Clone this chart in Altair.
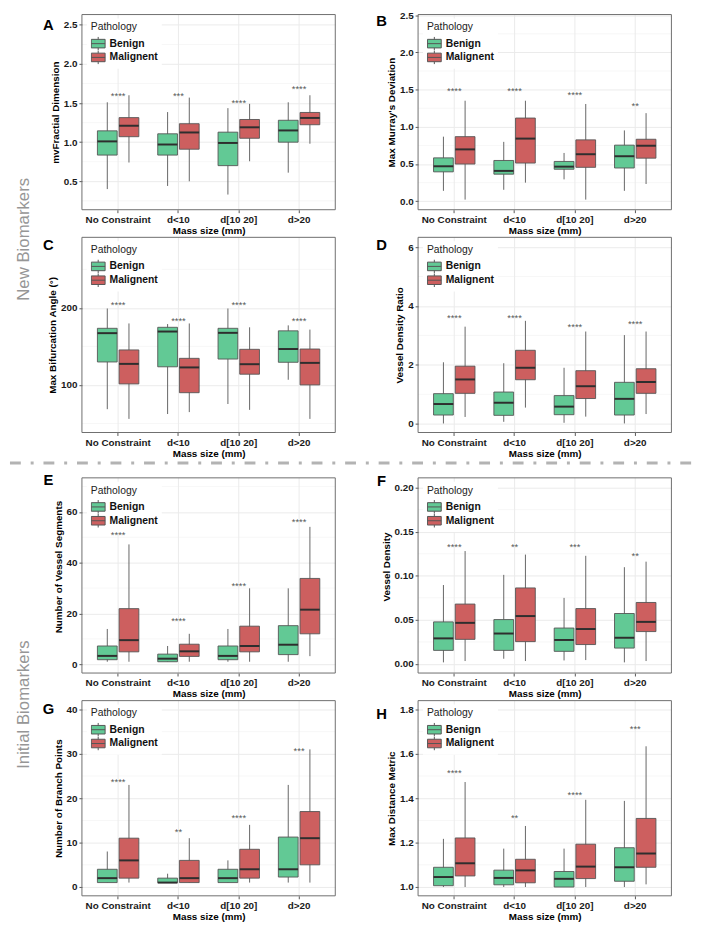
import altair as alt
import pandas as pd

categories = ["No Constraint", "d<10", "d[10 20]", "d>20"]
groups = ["Benign", "Malignent"]

# box statistics per mass-size class: [lower whisker, Q1, median, Q3, upper whisker]
A_benign = [[0.40, 0.835, 1.01, 1.145, 1.51], [0.44, 0.835, 0.97, 1.107, 1.385],
            [0.33, 0.70, 0.99, 1.128, 1.435], [0.61, 1.00, 1.15, 1.28, 1.51]]
A_malig = [[0.74, 1.07, 1.21, 1.314, 1.60], [0.50, 0.91, 1.124, 1.236, 1.57],
           [0.756, 1.05, 1.19, 1.29, 1.49], [0.98, 1.223, 1.31, 1.38, 1.60]]
A_stars = ["****", "***", "****", "****"]
A_star_y = [1.62, 1.62, 1.525, 1.707]

B_benign = [[0.14, 0.395, 0.47, 0.583, 0.868], [0.154, 0.364, 0.408, 0.548, 0.798],
            [0.294, 0.43, 0.465, 0.535, 0.649], [0.14, 0.447, 0.605, 0.754, 0.952]]
B_malig = [[0.022, 0.50, 0.697, 0.868, 1.351], [0.25, 0.513, 0.842, 1.118, 1.351],
           [0.022, 0.456, 0.632, 0.825, 1.307], [0.232, 0.579, 0.746, 0.833, 1.184]]
B_stars = ["****", "****", "****", "**"]
B_star_y = [1.504, 1.504, 1.456, 1.307]

C_benign = [[68.5, 129.8, 167.2, 173.5, 199.2], [62.2, 123.5, 169.3, 174.8, 179.0],
            [75.2, 133.6, 167.6, 173.5, 199.2], [106.7, 129.4, 146.6, 170.2, 177.3]]
C_malig = [[55.9, 101.3, 127.3, 145.4, 179.8], [64.7, 89.9, 122.7, 134.5, 179.8],
           [67.6, 113.9, 126.9, 146.2, 174.8], [55.9, 100.0, 128.6, 146.6, 171.8]]
C_stars = ["****", "****", "****", "****"]
C_star_y = [206.3, 186.1, 206.3, 186.1]

D_benign = [[0.01, 0.297, 0.67, 1.022, 2.088], [0.066, 0.286, 0.714, 1.077, 2.055],
            [0.033, 0.308, 0.582, 0.956, 1.901], [0.011, 0.297, 0.846, 1.407, 3.011]]
D_malig = [[0.231, 1.033, 1.505, 1.956, 3.297], [0.549, 1.495, 1.901, 2.495, 3.495],
           [0.242, 0.857, 1.275, 1.802, 3.132], [0.33, 1.033, 1.418, 1.868, 3.132]]
D_stars = ["****", "****", "****", "****"]
D_star_y = [3.648, 3.648, 3.363, 3.44]

E_benign = [[1, 1.8, 3.3, 7.2, 13.9], [1, 1, 2.2, 4.0, 7.2],
            [1, 1.8, 3.3, 7.2, 13.9], [1, 3.8, 7.7, 15.2, 29.9]]
E_malig = [[1, 4.9, 9.5, 21.9, 47.2], [1, 3.1, 5.1, 7.9, 12.0],
           [1, 4.9, 7.2, 15.0, 29.9], [3.2, 12.0, 21.5, 33.8, 54.1]]
E_stars = ["****", "****", "****", "****"]
E_star_y = [51.6, 17.8, 31.7, 56.8]

F_benign = [[0.0018, 0.0154, 0.029, 0.0477, 0.0895], [0.0059, 0.0154, 0.0345, 0.0503, 0.101],
            [0.004, 0.0143, 0.0272, 0.0407, 0.0749], [0.0018, 0.018, 0.0297, 0.0572, 0.1097]]
F_malig = [[0.0033, 0.0279, 0.0466, 0.0679, 0.128], [0.0033, 0.0253, 0.0543, 0.0862, 0.124],
           [0.0044, 0.022, 0.0396, 0.0628, 0.1226], [0.0033, 0.0367, 0.0477, 0.0697, 0.116]]
F_stars = ["****", "**", "***", "**"]
F_star_y = [0.1347, 0.1347, 0.1347, 0.1248]

G_benign = [[1, 1, 2, 4, 8], [1, 1, 1, 2, 3], [1, 1, 2, 4, 6], [1, 2.25, 4, 11.25, 23]]
G_malig = [[1, 2, 6, 11, 23], [1, 1, 2, 6, 11], [1, 2, 4, 8.5, 14], [1, 5, 11, 17, 31]]
G_stars = ["****", "**", "****", "***"]
G_star_y = [24.0, 12.9, 16.0, 31.0]

H_benign = [[1.0, 1.006, 1.045, 1.089, 1.217], [1.0, 1.010, 1.041, 1.076, 1.173],
            [1.0, 1.0, 1.037, 1.070, 1.173], [1.0, 1.026, 1.089, 1.177, 1.388]]
H_malig = [[1.0, 1.050, 1.107, 1.221, 1.473], [1.0, 1.019, 1.075, 1.125, 1.275],
           [1.0, 1.038, 1.092, 1.193, 1.393], [1.012, 1.089, 1.151, 1.309, 1.634]]
H_stars = ["****", "**", "****", "***"]
H_star_y = [1.522, 1.319, 1.422, 1.722]

# ---------------------------------------------------------------- style
PW, PH = 257, 198
EXTRA3 = 18
GREEN, RED = "#62c995", "#cd5f5f"
FONT = "Liberation Sans"
BOX_PATH = "M-1,-0.62H1V0.62H-1Z M-1,0H1 M0,-0.62V-1 M0,0.62V1"


def panel(letter, ytitle, benign, malig, stars, star_y, y0, y1, major, minor,
          fmt, extra, letter_xy, extras=()):
    rows = []
    for grp, stats in ((groups[0], benign), (groups[1], malig)):
        for cat, s in zip(categories, stats):
            rows.append({"cat": cat, "grp": grp, "low": s[0], "q1": s[1],
                         "med": s[2], "q3": s[3], "high": s[4]})
    boxes = pd.DataFrame(rows)
    star_df = pd.DataFrame({"cat": categories, "y": star_y, "s": stars})
    cat_df = pd.DataFrame({"cat": categories})
    minor_df = pd.DataFrame({"v": minor})
    one = pd.DataFrame({"k": [0]})

    H = PH + extra
    ytop = y1 + (y1 - y0) * extra / PH
    ysc = alt.Scale(domain=[y0, ytop], nice=False, zero=False)
    xsc = alt.Scale(domain=categories, paddingInner=0, paddingOuter=0.1)
    xax = alt.Axis(title="Mass size (mm)", labelAngle=0, grid=False, labelOverlap=False)
    x = alt.X("cat:N", scale=xsc, axis=xax)
    xo = alt.XOffset("grp:N", scale=alt.Scale(domain=groups, paddingInner=0.09, paddingOuter=0.436))
    yaxis = alt.Axis(title=ytitle, values=major, format=fmt, grid=True, labelOverlap=False)

    def yq(f):
        return alt.Y(f"{f}:Q", scale=ysc, axis=yaxis)

    legend = alt.Legend(
        title="Pathology", orient="none", legendX=5, legendY=extra + 4, padding=4,
        fillColor="white", titleFontSize=10.5, titleFontWeight="normal", titleColor="#222",
        titleFont=FONT, labelFont=FONT, labelFontSize=10.5, labelFontWeight="bold",
        labelColor="#111", symbolType=BOX_PATH, symbolSize=196, symbolStrokeColor="#555",
        symbolStrokeWidth=1, titlePadding=4, rowPadding=0, clipHeight=14, labelOffset=4,
        symbolOpacity=1)

    minor_grid = alt.Chart(minor_df).mark_rule(color="#f3f3f3", strokeWidth=0.7).encode(
        y=yq("v"), x=alt.value(0), x2=alt.value(PW))
    vgrid = alt.Chart(cat_df).mark_rule(color="#ebebeb").encode(
        x=x, y=alt.value(extra), y2=alt.value(H))
    whisk = alt.Chart(boxes).mark_rule(color="#666").encode(
        x=x, xOffset=xo, y=yq("low"), y2="high:Q")
    box = alt.Chart(boxes).mark_bar(stroke="#555", strokeWidth=0.9, opacity=1).encode(
        x=x, xOffset=xo, y=yq("q1"), y2="q3:Q",
        color=alt.Color("grp:N", scale=alt.Scale(domain=groups, range=[GREEN, RED]), legend=legend))
    median = alt.Chart(boxes).mark_tick(color="#2e2e2e", thickness=2, size=20, opacity=1).encode(
        x=x, xOffset=xo, y=yq("med"))
    star = alt.Chart(star_df).mark_text(fontSize=9.5, color="#555", baseline="alphabetic", dy=5).encode(
        x=x, y=yq("y"), text="s:N")
    frame = alt.Chart(one).mark_rect(fillOpacity=0, stroke="#6e6e6e", strokeWidth=1).encode(
        x=alt.value(0), x2=alt.value(PW), y=alt.value(extra), y2=alt.value(H))
    let = alt.Chart(one).mark_text(text=letter, fontSize=15, fontWeight="bold", color="#000",
                                   font=FONT).encode(
        x=alt.value(letter_xy[0]), y=alt.value(extra + letter_xy[1]))
    layers = [minor_grid, vgrid, whisk, box, median, star, frame, let]
    for e in extras:
        layers.append(e(one))
    return alt.layer(*layers).properties(width=PW, height=H)


def side_label(text, yy):
    def make(one):
        return alt.Chart(one).mark_text(text=text, angle=270, fontSize=17, color="#969696",
                                        font=FONT, align="center", baseline="middle").encode(
            x=alt.value(-59), y=alt.value(yy))
    return make


def separator(yy):
    def make(one):
        return alt.Chart(one).mark_rule(strokeDash=[11, 10, 3, 10], strokeWidth=3,
                                        color="#b3b3b3").encode(
            x=alt.value(-73), x2=alt.value(625), y=alt.value(yy))
    return make


LX, RX = -34, -37
pA = panel("A", "mvFractial Dimension", A_benign, A_malig, A_stars, A_star_y, 0.136, 2.632,
           [0.5, 1.0, 1.5, 2.0, 2.5], [0.25, 0.75, 1.25, 1.75, 2.25], ".1f", 0, (LX, 10.6))
pB = panel("B", "Max Murray's Deviation", B_benign, B_malig, B_stars, B_star_y, -0.114, 2.509,
           [0.0, 0.5, 1.0, 1.5, 2.0, 2.5], [0.25, 0.75, 1.25, 1.75, 2.25], ".1f", 0, (RX, 6.6))
pC = panel("C", "Max Bifurcation Angle (°)", C_benign, C_malig, C_stars, C_star_y, 38.2, 291.6,
           [100, 200], [50, 150, 250], "d", 0, (LX, 7.7),
           extras=[side_label("New Biomarkers", 2)])
pD = panel("D", "Vessel Density Ratio", D_benign, D_malig, D_stars, D_star_y, -0.297, 6.33,
           [0, 2, 4, 6], [1, 3, 5], "d", 0, (RX, 7.7))
pE = panel("E", "Number of Vessel Segments", E_benign, E_malig, E_stars, E_star_y, -3.45, 73.4,
           [0, 20, 40, 60], [10, 30, 50, 70], "d", EXTRA3, (LX, 2.5),
           extras=[separator(3)])
pF = panel("F", "Vessel Density", F_benign, F_malig, F_stars, F_star_y, -0.0103, 0.211,
           [0.0, 0.05, 0.10, 0.15, 0.20], [0.025, 0.075, 0.125, 0.175], ".2f", EXTRA3, (RX, 3.3))
pG = panel("G", "Number of Branch Points", G_benign, G_malig, G_stars, G_star_y, -1.98, 41.98,
           [0, 10, 20, 30, 40], [5, 15, 25, 35], "d", 0, (LX, 9),
           extras=[side_label("Initial Biomarkers", 4)])
pH = panel("H", "Max Distance Metric", H_benign, H_malig, H_stars, H_star_y, 0.9604, 1.8396,
           [1.0, 1.2, 1.4, 1.6, 1.8], [1.1, 1.3, 1.5, 1.7], ".1f", 0, (RX, 14))

chart = (
    alt.concat(pA, pB, pC, pD, pE, pF, pG, pH, columns=2,
               spacing={"row": 28, "column": 84}, bounds="flush")
    .resolve_scale(color="independent", x="independent", y="independent")
    .resolve_legend(color="independent")
    .properties(padding={"left": 0, "top": -5, "right": 0, "bottom": 0})
    .configure(font=FONT)
    .configure_view(stroke=None)
    .configure_axis(labelFont=FONT, titleFont=FONT, labelFontSize=10, labelFontWeight="bold",
                    labelColor="#1a1a1a", titleFontSize=10, titleFontWeight="bold",
                    titleColor="#000", tickSize=3, tickColor="#555", domain=False,
                    gridColor="#ebebeb", labelPadding=2)
    .configure_axisX(titlePadding=1)
    .configure_axisY(titlePadding=3)
)

chart.save("out.html", embed_options={"renderer": "svg", "actions": False})
